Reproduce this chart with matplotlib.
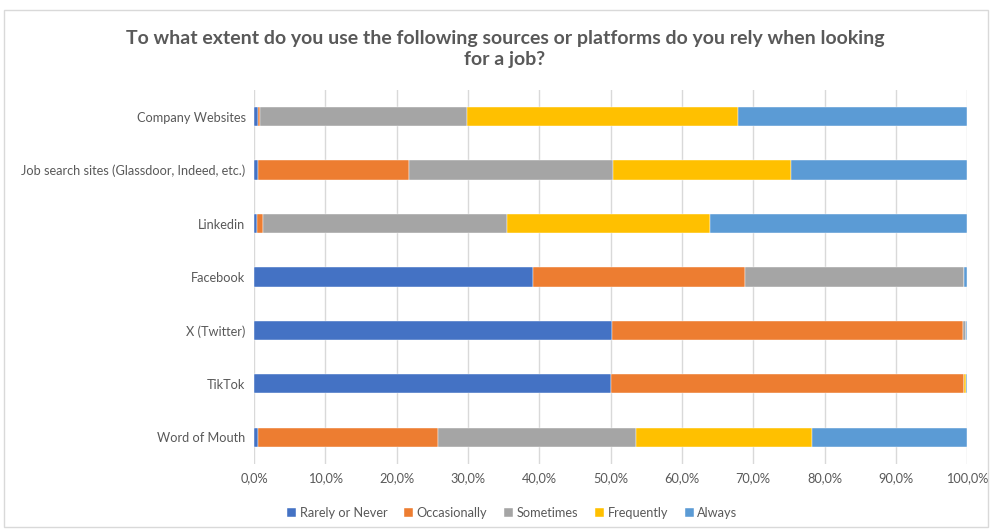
import numpy as np
import matplotlib
matplotlib.use("Agg")
import matplotlib.pyplot as plt
from matplotlib.patches import Rectangle

# Survey data (percent of respondents)
categories = [
    "Company Websites",
    "Job search sites (Glassdoor, Indeed, etc.)",
    "Linkedin",
    "Facebook",
    "X (Twitter)",
    "TikTok",
    "Word of Mouth",
]
series_names = ["Rarely or Never", "Occasionally", "Sometimes", "Frequently", "Always"]
rarely = [0.6, 0.6, 0.4, 39.1, 50.2, 50.0, 0.6]
occasionally = [0.3, 21.2, 0.8, 29.7, 49.2, 49.5, 25.2]
sometimes = [29.0, 28.6, 34.3, 30.8, 0.4, 0.0, 27.8]
frequently = [37.9, 24.9, 28.5, 0.0, 0.0, 0.3, 24.7]
always = [32.2, 24.7, 36.0, 0.4, 0.2, 0.2, 21.7]
colors = ["#4472C4", "#ED7D31", "#A5A5A5", "#FFC000", "#5B9BD5"]

plt.rcParams['font.family'] = ['Lato', 'DejaVu Sans']
text_col = "#595959"

fig = plt.figure(figsize=(9.92, 5.29), dpi=100)
ax = fig.add_axes([0.256, 0.123, 0.719, 0.707])

# outer chart border
fig.patches.append(Rectangle((0.004, 0.004), 0.992, 0.978, transform=fig.transFigure,
                             fill=False, edgecolor="#D9D9D9", linewidth=1))

y = np.arange(len(categories))
left = np.zeros(len(categories))
for name, vals, c in zip(series_names, [rarely, occasionally, sometimes, frequently, always], colors):
    vals = np.array(vals)
    ax.barh(y, vals, left=left, height=0.36, color=c, label=name,
            edgecolor="white", linewidth=0.3, zorder=3)
    left += vals

ax.set_ylim(len(categories) - 0.5, -0.5)
ax.set_xlim(0, 100)
ax.set_yticks(y)
ax.set_yticklabels(categories, fontsize=9.2, color=text_col)
ticks = np.arange(0, 101, 10)
ax.set_xticks(ticks)
ax.set_xticklabels([f"{t:.1f}%".replace(".", ",") for t in ticks], fontsize=9.2, color=text_col)
ax.tick_params(length=0, pad=6)
ax.grid(axis="x", color="#D9D9D9", linewidth=1, zorder=0)
for s in ax.spines.values():
    s.set_visible(False)

fig.text(0.509, 0.907, "To what extent do you use the following sources or platforms do you rely when looking\nfor a job?",
         ha="center", va="center", fontsize=14, fontweight="bold", color=text_col, linespacing=1.3)

ax.legend(loc="center", bbox_to_anchor=(0.362, -0.13), ncol=5, frameon=False,
          fontsize=9.2, labelcolor=text_col, handlelength=0.7, handleheight=0.7,
          handletextpad=0.3, columnspacing=1.3)

fig.savefig("out.png", dpi=100)
